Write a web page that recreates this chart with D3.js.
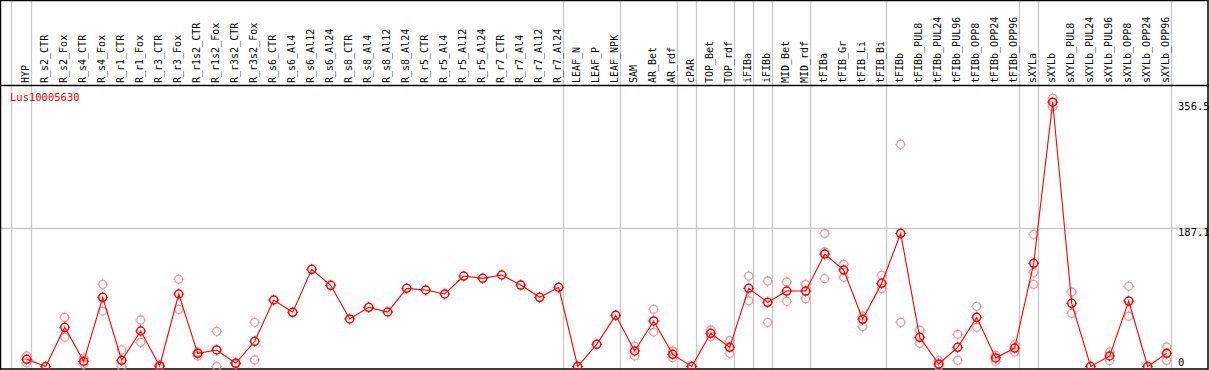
<!DOCTYPE html>
<html>
<head>
<meta charset="utf-8">
<script src="https://cdn.jsdelivr.net/npm/d3@7/dist/d3.min.js"></script>
<style>
  body { margin: 0; background: #fff; }
  svg { display: block; font-family: "DejaVu Sans Mono", monospace; }
</style>
</head>
<body>
<svg id="chart" width="1209" height="370"></svg>
<script>
const W = 1209;
const H = 370;

const gene = "Lus10005630";

const samples = [
  "HYP", "R_s2_CTR", "R_s2_Fox", "R_s4_CTR", "R_s4_Fox", "R_r1_CTR", "R_r1_Fox",
  "R_r3_CTR", "R_r3_Fox", "R_r1s2_CTR", "R_r1s2_Fox", "R_r3s2_CTR", "R_r3s2_Fox",
  "R_s6_CTR", "R_s6_Al4", "R_s6_Al12", "R_s6_Al24", "R_s8_CTR", "R_s8_Al4",
  "R_s8_Al12", "R_s8_Al24", "R_r5_CTR", "R_r5_Al4", "R_r5_Al12", "R_r5_Al24",
  "R_r7_CTR", "R_r7_Al4", "R_r7_Al12", "R_r7_Al24", "LEAF_N", "LEAF_P", "LEAF_NPK",
  "SAM", "AR_Bet", "AR_rdf", "cPAR", "TOP_Bet", "TOP_rdf", "iFIBa", "iFIBb",
  "MID_Bet", "MID_rdf", "tFIBa", "tFIB_Gr", "tFIB_Li", "tFIB_Bi", "tFIBb",
  "tFIBb_PUL8", "tFIBb_PUL24", "tFIBb_PUL96", "tFIBb_OPP8", "tFIBb_OPP24", "tFIBb_OPP96",
  "sXYLa", "sXYLb", "sXYLb_PUL8", "sXYLb_PUL24", "sXYLb_PUL96", "sXYLb_OPP8",
  "sXYLb_OPP24", "sXYLb_OPP96"
];

// mean expression per sample
const means = [
  9.7, 0, 52.9, 7.0, 93.3, 8.3, 47.9, 0.7, 97.8, 17.8, 22.3, 4.3, 34.0,
  89.7, 73.1, 131.1, 109.5, 64.1, 79.8, 73.5, 105.4, 103.2, 97.8, 122.0, 118.9,
  123.4, 109.9, 93.3, 106.8, 0, 29.9, 69.0,
  20.9, 61.4, 16.4, 0, 44.8, 25.9, 105.4, 86.6, 101.8, 101.8, 151.7, 130.1,
  63.7, 112.2, 179.6, 39.4, 3.4, 25.9, 66.3, 11.5, 24.9,
  139.2, 356.5, 85.2, 0, 14.2, 88.3, 0, 17.8
];

// individual replicates (where visible apart from the mean)
const replicates = [
  [14.2, 5.1], [], [66.3, 39.4], [11.5, 3.4], [110.8, 74.8], [22.3, 0], [62.7, 32.6],
  [1.5, 0], [117.6, 77.1], [19.6, 14.2], [47.5, 0], [5.0, 3.4], [59.6, 8.8],
  [], [], [], [], [], [], [], [], [], [], [], [],
  [], [], [], [], [], [], [],
  [27.6, 14.2], [77.1, 46.5], [20.9, 11.9], [], [49.2, 40.2], [34.8, 17.8],
  [122.0, 88.7], [115.3, 59.6], [114.0, 87.9], [110.8, 91.4],
  [179.6, 154.8, 118.4], [137.8, 120.3], [68.1, 53.7], [123.0, 105.4], [299.7, 59.6],
  [49.2, 31.3], [7.8, 0.7], [43.4, 8.3], [81.2, 52.9], [15.1, 7.0], [29.4, 19.6],
  [178.3, 127.0, 110.8], [362.1, 350.4], [100.5, 71.7], [], [19.6, 7.8], [108.2, 67.7],
  [], [26.3, 8.3]
];

// index of the last sample in each group (grey separators)
const groupEnds = [-1, 0, 28, 31, 34, 35, 37, 38, 39, 41, 45, 52, 53, 60];

const yTicks = [356.5, 187.1, 0];

const svg = d3.select("#chart");

const x = d3.scalePoint().domain(d3.range(samples.length)).range([26.7, 1166.7]);
const step = x.step();
const y = d3.scaleLinear().domain([0, 356.5]).range([366.5, 102.2]);

const HEADER = 85;
const grey = "#c8c8c8";

// group separators
const sepX = (d) => Math.round(d < 0 ? x(0) - step + 3 : x(d) + 4) + 0.5;
svg.append("g")
  .selectAll("line")
  .data(groupEnds)
  .join("line")
  .attr("x1", sepX)
  .attr("x2", sepX)
  .attr("y1", 0)
  .attr("y2", H)
  .attr("stroke", grey)
  .attr("stroke-width", 1.3);

// horizontal grid at 187.1
svg.append("line")
  .attr("x1", 0).attr("x2", W)
  .attr("y1", Math.round(y(187.1)) + 0.5).attr("y2", Math.round(y(187.1)) + 0.5)
  .attr("stroke", grey)
  .attr("stroke-width", 1.3);

// frame
svg.append("rect")
  .attr("x", 0.5).attr("y", 0.5)
  .attr("width", W - 1.5).attr("height", 368.5)
  .attr("fill", "none")
  .attr("stroke", "#000")
  .attr("stroke-width", 1.5);
svg.append("line")
  .attr("x1", 0).attr("x2", W)
  .attr("y1", HEADER + 0.5).attr("y2", HEADER + 0.5)
  .attr("stroke", "#000")
  .attr("stroke-width", 1.5);

// sample labels in the header
svg.append("g")
  .selectAll("text")
  .data(samples)
  .join("text")
  .attr("transform", (d, i) => `translate(${x(i) - 1}, 83) rotate(-90)`)
  .attr("dominant-baseline", "central")
  .attr("font-size", "10px")
  .attr("fill", "#000")
  .text((d) => d);

// y tick labels on the right
svg.append("g")
  .selectAll("text")
  .data(yTicks)
  .join("text")
  .attr("x", 1178)
  .attr("y", (d) => Math.min(y(d) + 8, 366))
  .attr("font-size", "10.5px")
  .attr("fill", "#000")
  .text((d) => d);

// gene label
svg.append("text")
  .attr("x", 10)
  .attr("y", 101)
  .attr("font-size", "10.5px")
  .attr("fill", "#ff0000")
  .text(gene);

// marker: circle with small ticks
function marker(g, color, sw) {
  g.append("circle").attr("r", 4).attr("fill", "none").attr("stroke", color).attr("stroke-width", sw);
  g.append("path")
    .attr("d", "M0,-4V-5.5M0,4V5.5M-4,0H-5.5M4,0H5.5")
    .attr("stroke", color)
    .attr("stroke-width", 1);
}

// replicate points
const repData = [];
replicates.forEach((arr, i) => arr.forEach((v) => repData.push({ i, v })));
svg.append("g")
  .selectAll("g")
  .data(repData)
  .join("g")
  .attr("transform", (d) => `translate(${x(d.i)}, ${y(d.v)})`)
  .each(function () { marker(d3.select(this), "#ee9a9a", 1.3); });

// mean line
const line = d3.line().x((d, i) => x(i)).y((d) => y(d));
svg.append("path")
  .datum(means)
  .attr("d", line)
  .attr("fill", "none")
  .attr("stroke", "#ff0000")
  .attr("stroke-width", 1.1);

svg.append("g")
  .selectAll("g")
  .data(means)
  .join("g")
  .attr("transform", (d, i) => `translate(${x(i)}, ${y(d)})`)
  .each(function () { marker(d3.select(this), "#ff0000", 1.5); });
</script>
</body>
</html>
